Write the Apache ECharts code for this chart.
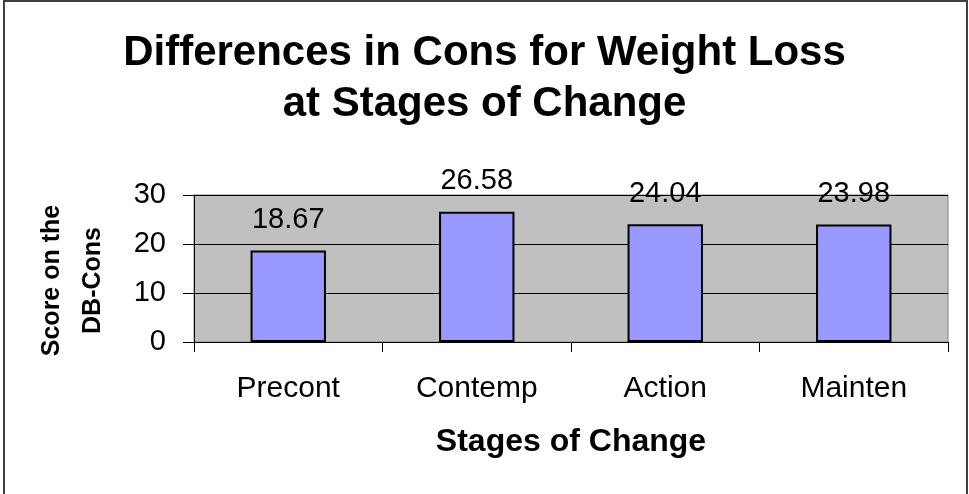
<!DOCTYPE html>
<html>
<head>
<meta charset="utf-8">
<script src="https://cdn.jsdelivr.net/npm/echarts@6/dist/echarts.min.js"></script>
<style>
  html, body { margin: 0; padding: 0; background: #fff; }
  #main { width: 969px; height: 494px; }
</style>
</head>
<body>
<div id="main"></div>
<script>
var stages = ['Precont', 'Contemp', 'Action', 'Mainten'];
var scores = [18.67, 26.58, 24.04, 23.98];
var yTicks = [0, 10, 20, 30];

var font = 'Liberation Sans, Arial, sans-serif';
var chartDom = document.getElementById('main');
var myChart = echarts.init(chartDom);

var option = {
  animation: false,
  backgroundColor: '#fff',
  textStyle: { fontFamily: font },
  title: {
    text: 'Differences in Cons for Weight Loss\nat Stages of Change',
    left: 'center',
    top: 23,
    textStyle: {
      fontFamily: font,
      fontSize: 42,
      fontWeight: 'bold',
      color: '#000',
      lineHeight: 51
    }
  },
  graphic: [
    {
      type: 'rect',
      shape: { x: 4, y: 1, width: 963, height: 510 },
      style: { fill: 'none', stroke: '#404040', lineWidth: 2 },
      silent: true
    }
  ],
  grid: {
    left: 194,
    right: 21,
    top: 195,
    bottom: 152,
    show: true,
    backgroundColor: '#c0c0c0',
    borderColor: '#808080',
    borderWidth: 1
  },
  xAxis: {
    type: 'category',
    data: stages,
    name: 'Stages of Change',
    nameLocation: 'middle',
    nameGap: 84,
    nameTextStyle: { fontFamily: font, fontSize: 32, fontWeight: 'bold', color: '#000' },
    axisLine: { lineStyle: { color: '#000', width: 1 } },
    axisTick: { show: true, length: 10, lineStyle: { color: '#000' } },
    axisLabel: { fontFamily: font, fontSize: 30, color: '#000', margin: 32 }
  },
  yAxis: {
    type: 'value',
    min: yTicks[0],
    max: yTicks[yTicks.length - 1],
    interval: 10,
    name: 'Score on the\nDB-Cons',
    nameLocation: 'middle',
    nameRotate: 90,
    nameGap: 80,
    nameTextStyle: { fontFamily: font, fontSize: 25, fontWeight: 'bold', color: '#000', lineHeight: 41, padding: [0, 24, 0, 0] },
    axisLine: { show: true, lineStyle: { color: '#000', width: 1 } },
    axisTick: { show: true, length: 11, lineStyle: { color: '#000' } },
    axisLabel: { fontFamily: font, fontSize: 29, color: '#000', margin: 28 },
    splitLine: { show: true, lineStyle: { color: '#000', width: 1 } }
  },
  series: [
    {
      type: 'bar',
      data: scores,
      barWidth: '40%',
      itemStyle: { color: '#9999ff', borderColor: '#000', borderWidth: 2 },
      label: {
        show: true,
        position: 'top',
        distance: 16,
        fontFamily: font,
        fontSize: 29,
        color: '#000',
        formatter: function (p) { return p.value.toFixed(2); }
      }
    }
  ]
};

myChart.setOption(option);
</script>
</body>
</html>
